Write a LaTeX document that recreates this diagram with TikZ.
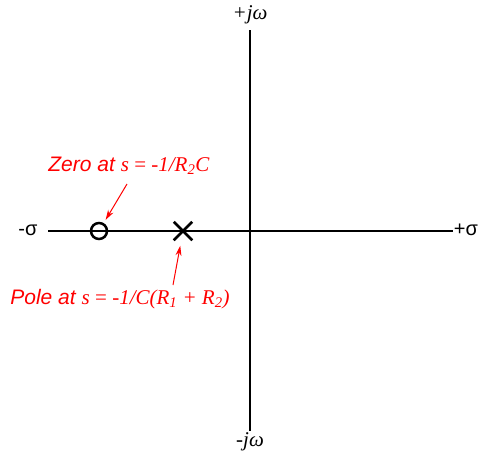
\documentclass[tikz,border=0pt]{standalone}
\usepackage{fontspec}
\setmainfont{Liberation Serif}
\setsansfont{Liberation Sans}
\usetikzlibrary{arrows.meta,shapes.misc}
\begin{document}
\begin{tikzpicture}[x=1pt,y=-1pt,
  axis/.style={line width=1.3pt,black},
  lbl/.style={inner sep=0pt,font=\fontsize{21}{24}\selectfont},
  redlbl/.style={inner sep=0pt,text=red,font=\fontsize{21}{24}\selectfont},
  ptr/.style={red,line width=1pt,-{Stealth[length=10pt,width=6pt]}},
  marker/.style={line width=2.5pt,black,inner sep=0pt}]
\useasboundingbox (0,0) rectangle (480,456);
% axes
\coordinate (top) at (250,30);
\coordinate (bot) at (250,431);
\coordinate (lft) at (48,231);
\coordinate (rgt) at (453,231);
\draw[axis] (top) -- (bot);
\draw[axis] (lft) -- (rgt);
\node[lbl] (jwp) at (250,15) {\textit{+jω}};
\node[lbl] (jwm) at (250,442) {\textit{-jω}};
\node[lbl,font=\fontsize{20}{24}\selectfont\sffamily] (sm) at (28,230) {-σ};
\node[lbl,font=\fontsize{20}{24}\selectfont\sffamily] (sp) at (466,230) {+σ};
% zero and pole
\node[marker,draw,circle,minimum size=16pt] (zero) at (99,231) {};
\node[marker,draw,cross out,minimum size=16pt] (pole) at (183,231) {};
% labels
\node[redlbl] (zlab) at (129,166) {\textsf{\textit{Zero at}} \textit{s} = \textit{-1/R\textsubscript{2}C}};
\node[redlbl] (plab) at (120,299) {\textsf{\textit{Pole at}} \textit{s} = \textit{-1/C(R\textsubscript{1} + R\textsubscript{2})}};
\coordinate (za) at (127,184);
\coordinate (pa) at (173,285);
\draw[ptr,shorten >=13pt] (za) -- (zero.center);
\draw[ptr,shorten >=15pt] (pa) -- (pole.center);
\end{tikzpicture}
\end{document}
